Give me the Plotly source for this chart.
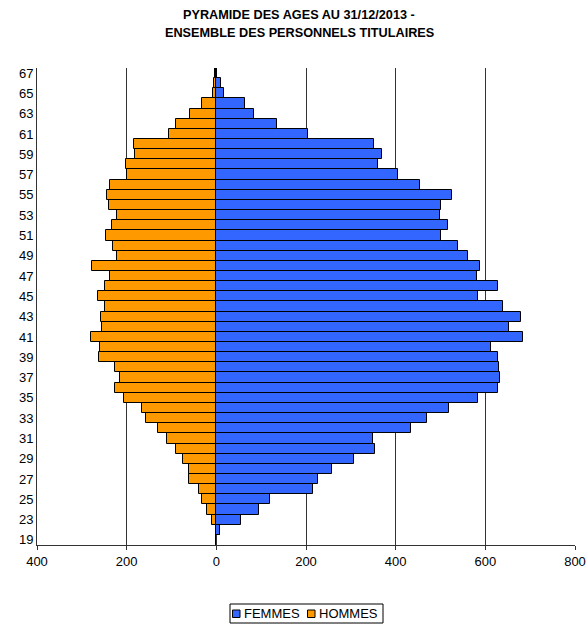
import plotly.graph_objects as go

ages = ["19", "22"] + [str(a) for a in range(23, 68)]
femmes = [0, 8, 54, 96, 119, 215, 227, 258, 307, 353, 350, 435, 469, 520, 584,
          629, 632, 630, 629, 612, 685, 652, 679, 639, 583, 628, 581, 589, 562,
          540, 502, 517, 498, 500, 526, 455, 405, 360, 369, 351, 204, 135, 85,
          63, 16, 10, 2]
hommes = [1, 0, 10, 20, 32, 39, 60, 62, 74, 89, 110, 130, 157, 166, 206,
          225, 215, 225, 261, 260, 279, 254, 258, 249, 263, 249, 237, 278, 221,
          231, 246, 232, 221, 239, 244, 238, 199, 202, 181, 183, 106, 90, 59,
          32, 8, 6, 3]
age_ticks = ["19"] + [str(a) for a in range(23, 68, 2)]
x_ticks = [-400, -200, 0, 200, 400, 600, 800]
x_tick_text = ["400", "200", "0", "200", "400", "600", "800"]
series_names = ["FEMMES", "HOMMES"]
series_colors = ["#3366FF", "#FF9900"]

FONT = "Liberation Sans, Arial, sans-serif"

FIG_W, FIG_H = 588, 628
# plot area in page pixels
PX0, PX1, PY0, PY1 = 37, 575, 68, 545
W, H = PX1 - PX0, PY1 - PY0


def px(x):
    return (x - PX0) / W


def py(y):
    return (PY1 - y) / H


fig = go.Figure()
fig.add_trace(go.Bar(
    y=ages, x=femmes, orientation="h", name=series_names[0],
    marker=dict(color=series_colors[0], line=dict(color="#000000", width=1)),
))
fig.add_trace(go.Bar(
    y=ages, x=[-v for v in hommes], orientation="h", name=series_names[1],
    customdata=hommes, hovertemplate="%{y}: %{customdata}<extra>HOMMES</extra>",
    marker=dict(color=series_colors[1], line=dict(color="#000000", width=1)),
))

shapes = [
    dict(type="rect", xref="paper", yref="paper",
         x0=px(230), x1=px(383), y0=py(604), y1=py(623),
         line=dict(color="#000000", width=1), fillcolor="white"),
]
annotations = [
    dict(text="<b>PYRAMIDE DES AGES AU 31/12/2013 -</b>", xref="paper", yref="paper",
         x=px(299), y=py(15.5), xanchor="center", yanchor="middle",
         showarrow=False, font=dict(size=12.7)),
    dict(text="<b>ENSEMBLE DES PERSONNELS TITULAIRES</b>", xref="paper", yref="paper",
         x=px(299), y=py(33), xanchor="center", yanchor="middle",
         showarrow=False, font=dict(size=12.7)),
]
legend_sq_x = [232.5, 307.5]
legend_tx_x = [241.5, 316.5]
for name, col, sx, tx in zip(series_names, series_colors, legend_sq_x, legend_tx_x):
    shapes.append(dict(type="rect", xref="paper", yref="paper",
                       x0=px(sx), x1=px(sx + 7.5), y0=py(610), y1=py(617.5),
                       line=dict(color="#000000", width=1), fillcolor=col))
    annotations.append(dict(text=name, xref="paper", yref="paper",
                            x=px(tx), y=py(613.8), xanchor="left", yanchor="middle",
                            showarrow=False, font=dict(size=13)))

fig.update_layout(
    width=FIG_W, height=FIG_H,
    margin=dict(l=PX0, r=FIG_W - PX1, t=PY0, b=FIG_H - PY1),
    paper_bgcolor="white", plot_bgcolor="white",
    barmode="relative", bargap=0,
    font=dict(family=FONT, size=13, color="#000000"),
    showlegend=False,
    shapes=shapes,
    annotations=annotations,
)
fig.update_xaxes(
    range=[-400, 800], tickvals=x_ticks, ticktext=x_tick_text,
    showgrid=True, gridcolor="#333333", gridwidth=1, zeroline=False,
    showline=True, linecolor="#333333", linewidth=1,
    ticks="outside", ticklen=4, tickcolor="#333333",
    automargin=False, tickfont=dict(size=13),
)
fig.update_yaxes(
    type="category", categoryorder="array", categoryarray=ages,
    tickvals=age_ticks, ticktext=age_ticks,
    showgrid=False, zeroline=False,
    showline=True, linecolor="#333333", linewidth=1, ticks="",
    range=[-0.5, len(ages) - 0.5], automargin=False,
    tickfont=dict(size=13),
)

fig.write_html(
    "out.html",
    config={"displayModeBar": False},
    post_script="document.body.style.margin='0';document.body.style.overflow='hidden';",
)
